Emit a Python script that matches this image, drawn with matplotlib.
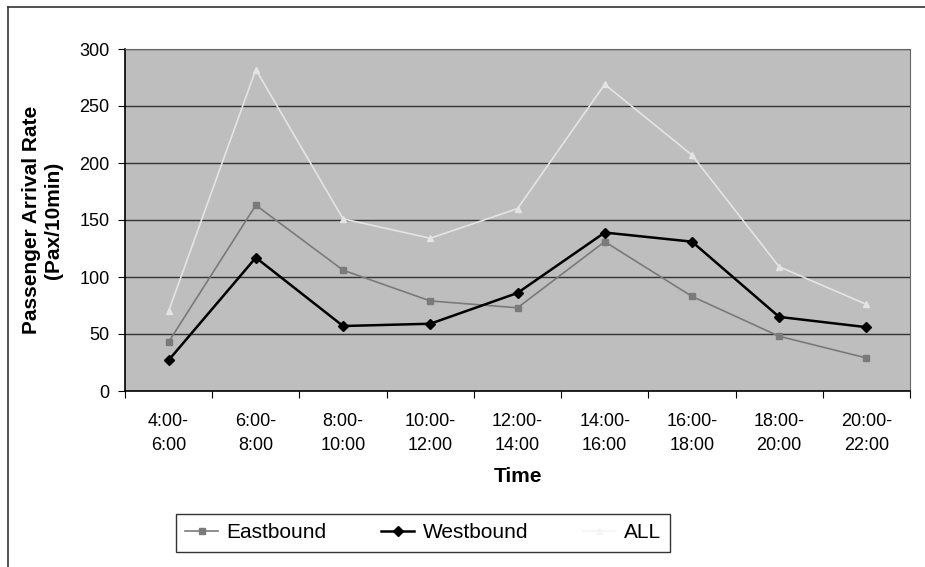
import matplotlib
matplotlib.use("Agg")
import matplotlib.pyplot as plt
from matplotlib.lines import Line2D
import numpy as np

categories = ["4:00-\n6:00", "6:00-\n8:00", "8:00-\n10:00", "10:00-\n12:00", "12:00-\n14:00",
              "14:00-\n16:00", "16:00-\n18:00", "18:00-\n20:00", "20:00-\n22:00"]
eastbound = [43, 163, 106, 79, 73, 131, 83, 48, 29]
westbound = [27, 117, 57, 59, 86, 139, 131, 65, 56]
all_pax = [70, 282, 151, 134, 160, 269, 207, 109, 76]

plt.rcParams['font.family'] = ['Liberation Sans', 'DejaVu Sans']

fig = plt.figure(figsize=(9.25, 5.67), dpi=100)
ax = fig.add_axes([125/925, 1-391/567, (910-125)/925, (391-49)/567])
ax.set_facecolor('#bebebe')

x = np.arange(len(categories))
ax.plot(x, all_pax, color='#e4e4e4', marker='^', markersize=5, linewidth=1.2, label='ALL', zorder=3)
ax.plot(x, eastbound, color='#7a7a7a', marker='s', markersize=5, linewidth=1.2, label='Eastbound', zorder=4)
ax.plot(x, westbound, color='black', marker='D', markersize=5.5, linewidth=1.8, label='Westbound', zorder=5)

ax.set_xlim(-0.5, len(categories) - 0.5)
ax.set_ylim(0, 300)
ax.set_yticks(range(0, 301, 50))
ax.yaxis.grid(True, color='#333333', linewidth=1.0)
ax.set_axisbelow(True)

ax.set_xticks(np.arange(-0.5, len(categories), 1.0))
ax.set_xticklabels([])
ax.set_xticks(x, minor=True)
ax.set_xticklabels(categories, minor=True, fontsize=13, linespacing=1.55)
ax.tick_params(axis='x', which='minor', length=0, pad=16)
ax.tick_params(axis='x', which='major', length=5, direction='out')
ax.tick_params(axis='y', labelsize=13, length=5, pad=6)

for s in ['top', 'right']:
    ax.spines[s].set_color('#666666')
    ax.spines[s].set_linewidth(0.8)
ax.spines['left'].set_linewidth(1.2)
ax.spines['bottom'].set_linewidth(1.2)

ax.set_ylabel("Passenger Arrival Rate\n(Pax/10min)", fontsize=15, fontweight='bold', labelpad=12)
ax.set_xlabel("Time", fontsize=15, fontweight='bold', labelpad=9)

handles = [
    Line2D([], [], color='#7a7a7a', marker='s', markersize=5, linewidth=1.2),
    Line2D([], [], color='black', marker='D', markersize=5.5, linewidth=1.8),
    Line2D([], [], color='#f4f4f4', marker='^', markersize=5, linewidth=1.2),
]
leg = fig.legend(handles, ['Eastbound', 'Westbound', 'ALL'], ncol=3,
                 loc='center', bbox_to_anchor=(423/925, 1-533/567),
                 frameon=True, fancybox=False, edgecolor='black', fontsize=15,
                 handlelength=1.6, handletextpad=0.4, columnspacing=2.6, borderpad=0.45)
leg.get_frame().set_linewidth(1.0)

fig.add_artist(Line2D([8/925, 1.0], [1-7/567, 1-7/567], color='#333333', linewidth=1.2))
fig.add_artist(Line2D([8/925, 8/925], [1-7/567, 0], color='#333333', linewidth=1.2))

fig.savefig("out.png", dpi=100)
